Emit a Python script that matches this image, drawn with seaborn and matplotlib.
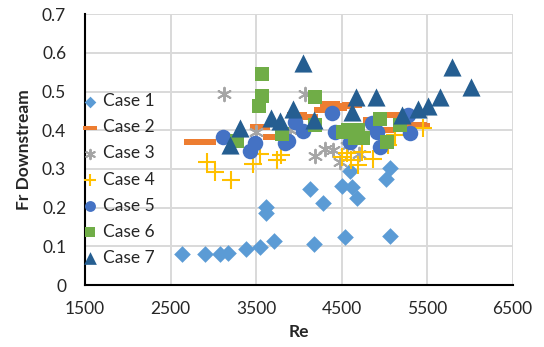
import matplotlib
matplotlib.use("Agg")
import matplotlib.pyplot as plt
import seaborn as sns
import numpy as np
from matplotlib.path import Path

# ---- data ----
case1_re = [2640, 2906, 3074, 3170, 3386, 3552, 3712, 3621, 3612, 4130, 4278, 4500, 4617, 4683, 4596, 5072, 5018, 4176, 4546, 5072]
case1_fr = [0.081, 0.079, 0.080, 0.082, 0.093, 0.098, 0.115, 0.202, 0.186, 0.249, 0.212, 0.255, 0.253, 0.225, 0.296, 0.302, 0.275, 0.105, 0.124, 0.128]

case2_re = [2780, 2920, 3550, 3700, 3980, 4113, 4290, 4370, 4445, 4520, 4620, 4873, 5070, 5380, 5420, 5000]
case2_fr = [0.371, 0.371, 0.408, 0.383, 0.439, 0.435, 0.452, 0.468, 0.457, 0.462, 0.465, 0.426, 0.439, 0.413, 0.411, 0.400]

case3_re = [3120, 3505, 3900, 4074, 4191, 4308, 4405, 4483, 4560, 4700]
case3_fr = [0.493, 0.396, 0.400, 0.495, 0.334, 0.352, 0.349, 0.319, 0.360, 0.340]

case4_re = [2923, 3025, 3205, 3466, 3550, 3743, 3790, 4510, 4560, 4610, 4697, 4740, 4873, 5049, 5127, 5458]
case4_fr = [0.319, 0.292, 0.271, 0.314, 0.340, 0.323, 0.336, 0.331, 0.342, 0.323, 0.310, 0.344, 0.327, 0.362, 0.388, 0.405]

case5_re = [3118, 3430, 3489, 3840, 3875, 3957, 4054, 4386, 4425, 4600, 4854, 4912, 4951, 5283, 5302]
case5_fr = [0.384, 0.346, 0.368, 0.366, 0.372, 0.422, 0.398, 0.446, 0.396, 0.370, 0.420, 0.396, 0.357, 0.440, 0.392]

case6_re = [3275, 3540, 3567, 3567, 3801, 4191, 4191, 4522, 4580, 4657, 4698, 4757, 4951, 5030, 5185]
case6_fr = [0.372, 0.464, 0.490, 0.545, 0.390, 0.485, 0.413, 0.396, 0.400, 0.379, 0.400, 0.379, 0.430, 0.370, 0.413]

case7_re = [3197, 3314, 3680, 3780, 3937, 4054, 4183, 4620, 4671, 4905, 5205, 5391, 5517, 5654, 5790, 6012]
case7_fr = [0.362, 0.405, 0.431, 0.425, 0.455, 0.573, 0.426, 0.448, 0.487, 0.487, 0.439, 0.456, 0.462, 0.487, 0.564, 0.511]

labels = ["Case 1", "Case 2", "Case 3", "Case 4", "Case 5", "Case 6", "Case 7"]
x_ticks = [1500, 2500, 3500, 4500, 5500, 6500]
y_ticks = [0, 0.1, 0.2, 0.3, 0.4, 0.5, 0.6, 0.7]
y_ticklabels = ["0", "0.1", "0.2", "0.3", "0.4", "0.5", "0.6", "0.7"]

# ---- style ----
sns.set_style("white")
plt.rcParams["font.family"] = ["Lato", "DejaVu Sans"]

W, H = 544, 347
fig = plt.figure(figsize=(W / 100, H / 100), dpi=100)
L, R, T, B = 85, 512.5, 14.3, 285
ax = fig.add_axes([L / W, 1 - B / H, (R - L) / W, (B - T) / H])

dash = Path([(-1, -0.33), (1, -0.33), (1, 0.33), (-1, 0.33), (-1, -0.33)],
            [Path.MOVETO, Path.LINETO, Path.LINETO, Path.LINETO, Path.CLOSEPOLY])

series = [
    (case1_re, case1_fr, "#5B9BD5", "D", 72, dict(linewidth=0)),
    (case2_re, case2_fr, "#ED7D31", dash, 200, dict(linewidth=0)),
    (case3_re, case3_fr, "#A5A5A5", (6, 2, 0), 95, dict(linewidth=1.4)),
    (case4_re, case4_fr, "#FFC000", "+", 168, dict(linewidth=1.5)),
    (case5_re, case5_fr, "#4472C4", "o", 125, dict(linewidth=0)),
    (case6_re, case6_fr, "#70AD47", "s", 105, dict(linewidth=0)),
    (case7_re, case7_fr, "#255E91", "^", 170, dict(linewidth=0)),
]

for (xs, ys, col, mk, s, kw), lab in zip(series, labels):
    sns.scatterplot(x=xs, y=ys, ax=ax, color=col, marker=mk, s=s,
                    edgecolor=col, label=lab, zorder=3, **kw)

ax.set_xlim(1500, 6500)
ax.set_ylim(0, 0.7)
ax.set_xticks(x_ticks)
ax.set_xticklabels([str(v) for v in x_ticks])
ax.set_yticks(y_ticks)
ax.set_yticklabels(y_ticklabels)

ax.grid(True, color="#D9D9D9", linewidth=1.4)
ax.set_axisbelow(True)
for side in ["top", "right"]:
    ax.spines[side].set_visible(False)
for side in ["left", "bottom"]:
    ax.spines[side].set_color("black")
    ax.spines[side].set_linewidth(1.5)
    ax.spines[side].set_zorder(5)

ax.tick_params(axis="both", direction="inout", length=9, width=1.5,
               color="black", labelsize=12.5, labelcolor="#262626")
ax.tick_params(axis="y", pad=9)
ax.tick_params(axis="x", pad=7)

ax.set_xlabel("Re", fontsize=12.5, fontweight="bold", labelpad=5, color="#262626")
ax.set_ylabel("Fr Downstream", fontsize=12.5, fontweight="bold", labelpad=7, color="#262626")

leg = ax.legend(loc="upper left", bbox_to_anchor=(-0.005, 0.708), frameon=False,
                borderaxespad=0, borderpad=0, handlelength=0.8, handletextpad=0.35,
                labelspacing=0.58, fontsize=12.5, markerscale=0.7)
for t in leg.get_texts():
    t.set_color("#262626")

fig.savefig("out.png", dpi=100)
